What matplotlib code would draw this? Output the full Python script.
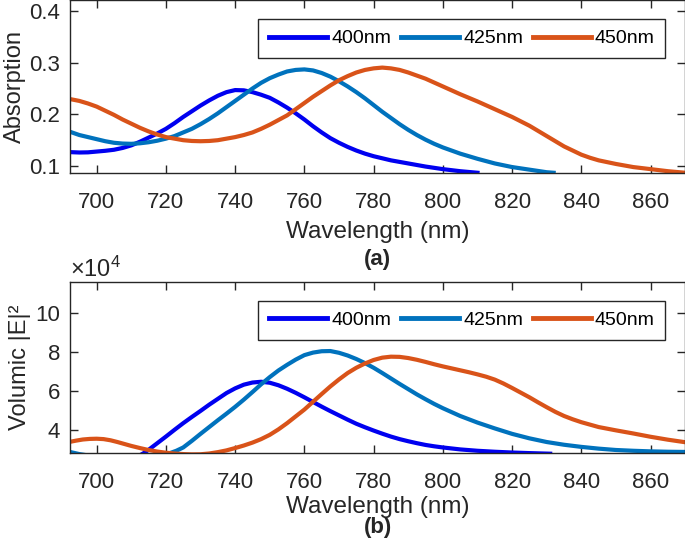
import numpy as np
import matplotlib
matplotlib.use("Agg")
import matplotlib.pyplot as plt

plt.rcParams["font.family"] = ["Liberation Sans", "DejaVu Sans"]
plt.rcParams["mathtext.fontset"] = "custom"
plt.rcParams["mathtext.rm"] = "Liberation Sans"
plt.rcParams["mathtext.it"] = "Liberation Sans:italic"
plt.rcParams["mathtext.bf"] = "Liberation Sans:bold"

# --- (a) absorption spectra ---
wl_abs_400 = [692, 695, 697.5, 700, 702.5, 705, 707.5, 710, 712.5, 715, 717.5, 720, 722.5,
              725, 727.5, 730, 732.5, 735, 737.5, 740, 742.5, 745, 747.5, 750, 752.5, 755,
              757.5, 760, 762.5, 765, 767.5, 770, 772.5, 775, 777.5, 780, 785, 790, 795,
              800, 805, 810]
abs_400 = [0.127, 0.1262, 0.1265, 0.128, 0.1295, 0.1315, 0.135, 0.140, 0.147, 0.155, 0.163,
           0.172, 0.183, 0.195, 0.206, 0.217, 0.227, 0.236, 0.243, 0.247, 0.2465, 0.243,
           0.238, 0.232, 0.223, 0.213, 0.202, 0.190, 0.177, 0.165, 0.154, 0.145, 0.137,
           0.130, 0.124, 0.119, 0.111, 0.105, 0.099, 0.094, 0.090, 0.087]

wl_abs_425 = [692, 695, 697.5, 700, 702.5, 705, 707.5, 710, 712.5, 715, 717.5, 720, 722.5,
              725, 727.5, 730, 732.5, 735, 737.5, 740, 742.5, 745, 747.5, 750, 752.5, 755,
              757.5, 760, 762.5, 765, 767.5, 770, 772.5, 775, 777.5, 780, 782.5, 785, 787.5,
              790, 792.5, 795, 797.5, 800, 805, 810, 815, 820, 825, 830, 832]
abs_425 = [0.167, 0.160, 0.156, 0.152, 0.148, 0.145, 0.1435, 0.143, 0.144, 0.146, 0.149,
           0.153, 0.158, 0.165, 0.172, 0.181, 0.191, 0.202, 0.214, 0.226, 0.238, 0.250,
           0.261, 0.270, 0.277, 0.283, 0.286, 0.287, 0.285, 0.280, 0.273, 0.264, 0.254,
           0.243, 0.231, 0.218, 0.205, 0.193, 0.181, 0.170, 0.160, 0.151, 0.143, 0.136,
           0.124, 0.114, 0.105, 0.098, 0.093, 0.088, 0.087]

wl_abs_450 = [692, 695, 697.5, 700, 702.5, 705, 707.5, 710, 712.5, 715, 717.5, 720, 722.5,
              725, 727.5, 730, 732.5, 735, 737.5, 740, 742.5, 745, 747.5, 750, 752.5, 755,
              757.5, 760, 762.5, 765, 767.5, 770, 772.5, 775, 777.5, 780, 782.5, 785, 787.5,
              790, 792.5, 795, 800, 805, 810, 815, 820, 825, 827.5, 830, 832.5, 835, 837.5,
              840, 842.5, 845, 850, 855, 860, 865, 870]
abs_450 = [0.230, 0.226, 0.221, 0.215, 0.207, 0.199, 0.190, 0.182, 0.174, 0.167, 0.161,
           0.156, 0.153, 0.150, 0.1485, 0.148, 0.1485, 0.150, 0.153, 0.156, 0.160, 0.165,
           0.172, 0.180, 0.189, 0.198, 0.210, 0.222, 0.234, 0.245, 0.256, 0.266, 0.274,
           0.281, 0.286, 0.289, 0.2905, 0.289, 0.286, 0.281, 0.275, 0.269, 0.254, 0.239,
           0.225, 0.210, 0.195, 0.178, 0.168, 0.158, 0.148, 0.138, 0.130, 0.122, 0.116,
           0.111, 0.104, 0.098, 0.094, 0.090, 0.087]

# --- (b) volumic |E|^2, in units of 1e4 ---
wl_vol_400 = [710, 713.5, 715, 717.5, 720, 722.5, 725, 727.5, 730, 732.5, 735, 737.5, 740,
              742.5, 745, 747.5, 750, 752.5, 755, 757.5, 760, 762.5, 765, 767.5, 770, 772.5,
              775, 777.5, 780, 782.5, 785, 787.5, 790, 792.5, 795, 797.5, 800, 805, 810,
              815, 820, 825, 831]
vol_400 = [2.45, 2.80, 2.98, 3.32, 3.66, 4.01, 4.35, 4.67, 4.98, 5.30, 5.60, 5.90, 6.14,
           6.33, 6.44, 6.48, 6.43, 6.30, 6.12, 5.91, 5.68, 5.44, 5.20, 4.97, 4.75, 4.53,
           4.32, 4.14, 3.97, 3.81, 3.66, 3.53, 3.42, 3.32, 3.23, 3.16, 3.10, 3.00, 2.93,
           2.88, 2.84, 2.81, 2.78]

wl_vol_425 = [692, 695, 700, 710, 718, 721, 723, 725, 727.5, 730, 732.5, 735, 737.5, 740,
              742.5, 745, 747.5, 750, 752.5, 755, 757.5, 760, 762.5, 765, 767.5, 770, 772.5,
              775, 777.5, 780, 782.5, 785, 787.5, 790, 792.5, 795, 797.5, 800, 805, 810,
              815, 820, 825, 830, 835, 840, 845, 850, 855, 860, 865, 870]
vol_425 = [2.88, 2.76, 2.62, 2.52, 2.65, 2.80, 2.93, 3.10, 3.44, 3.80, 4.15, 4.50, 4.84,
           5.19, 5.56, 5.95, 6.35, 6.72, 7.06, 7.35, 7.62, 7.85, 7.98, 8.05, 8.06, 7.97,
           7.83, 7.65, 7.44, 7.20, 6.93, 6.65, 6.37, 6.10, 5.83, 5.58, 5.34, 5.12, 4.72,
           4.38, 4.08, 3.80, 3.57, 3.38, 3.24, 3.13, 3.04, 2.97, 2.93, 2.90, 2.88, 2.87]

wl_vol_450 = [692, 694, 696, 698, 700, 702, 704, 706, 708, 710, 712.5, 715, 717.5, 720,
              722.5, 725, 727.5, 730, 732.5, 735, 737.5, 740, 742.5, 745, 747.5, 750, 752.5,
              755, 757.5, 760, 762.5, 765, 767.5, 770, 772.5, 775, 777.5, 780, 782.5, 785,
              787.5, 790, 792.5, 795, 797.5, 800, 802.5, 805, 807.5, 810, 812.5, 815, 817.5,
              820, 822.5, 825, 827.5, 830, 832.5, 835, 837.5, 840, 845, 850, 855, 860, 865,
              870]
vol_450 = [3.38, 3.45, 3.51, 3.54, 3.55, 3.53, 3.47, 3.38, 3.28, 3.18, 3.07, 2.97, 2.89,
           2.83, 2.79, 2.76, 2.745, 2.75, 2.79, 2.86, 2.95, 3.07, 3.20, 3.35, 3.53, 3.75,
           4.03, 4.35, 4.70, 5.05, 5.45, 5.85, 6.24, 6.60, 6.93, 7.20, 7.42, 7.60, 7.72,
           7.77, 7.76, 7.70, 7.61, 7.50, 7.38, 7.27, 7.17, 7.07, 6.97, 6.86, 6.74, 6.59,
           6.39, 6.16, 5.92, 5.68, 5.42, 5.17, 4.93, 4.72, 4.55, 4.40, 4.15, 3.98, 3.82,
           3.65, 3.50, 3.37]

labels = ["400nm", "425nm", "450nm"]
colors = ["#0000F0", "#0072BD", "#D95319"]
x_ticks = [700, 720, 740, 760, 780, 800, 820, 840, 860]

dark = "#262626"

fig = plt.figure(figsize=(6.85, 5.41), dpi=100)
ax1 = fig.add_axes([0.1022, 0.6802, 0.8971, 0.3198])
ax2 = fig.add_axes([0.1022, 0.1621, 0.8971, 0.3166])

for x, y, lab, c in zip([wl_abs_400, wl_abs_425, wl_abs_450],
                        [abs_400, abs_425, abs_450], labels, colors):
    ax1.plot(x, y, color=c, lw=3.0, label=lab, solid_joinstyle="round")

for x, y, lab, c in zip([wl_vol_400, wl_vol_425, wl_vol_450],
                        [vol_400, vol_425, vol_450], labels, colors):
    ax2.plot(x, y, color=c, lw=3.0, label=lab, solid_joinstyle="round")

ax1.set_xlim(692.3, 869.8)
ax1.set_ylim(0.0865, 0.4213)
ax1.set_yticks([0.1, 0.2, 0.3, 0.4])
ax1.set_ylabel("Absorption", fontsize=17, color=dark)
ax1.yaxis.set_label_coords(-0.071, 0.5)
ax1.set_xlabel("Wavelength (nm)", fontsize=17.5, color=dark, labelpad=6)

ax2.set_xlim(692.3, 869.8)
ax2.set_ylim(2.80, 11.61)
ax2.set_yticks([4, 6, 8, 10])
ax2.set_ylabel("Volumic |E|²", fontsize=17, color=dark)
ax2.yaxis.set_label_coords(-0.064, 0.5)
ax2.set_xlabel("Wavelength (nm)", fontsize=17.5, color=dark, labelpad=2)
ax2.text(0.0, 1.0, r"$\times10^4$", transform=ax2.transAxes, fontsize=17,
         color=dark, ha="left", va="bottom")

for ax in (ax1, ax2):
    ax.set_xticks(x_ticks)
    ax.tick_params(direction="in", length=6, width=1.0, top=True, right=True,
                   labelsize=16, colors=dark)
    ax.tick_params(axis="x", pad=13.5)
    ax.tick_params(axis="y", pad=7)
    for s in ax.spines.values():
        s.set_color(dark)
        s.set_linewidth(1.0)
    leg = ax.legend(loc="upper right", bbox_to_anchor=(0.969, 0.89), ncol=3,
                    fontsize=14, handlelength=3.0, handletextpad=0.2,
                    columnspacing=0.5, borderpad=0.55, fancybox=False,
                    framealpha=1, borderaxespad=0)
    leg.get_frame().set_edgecolor(dark)
    leg.get_frame().set_linewidth(1.0)
    for line in leg.get_lines():
        line.set_linewidth(3.5)

fig.text(0.5511, 1 - 260 / 541, "(a)", fontsize=16, fontweight="bold", color=dark,
         ha="center", va="center")
fig.text(0.5511, 1 - 528 / 541, "(b)", fontsize=16, fontweight="bold", color=dark,
         ha="center", va="center")

fig.savefig("out.png", dpi=100)
